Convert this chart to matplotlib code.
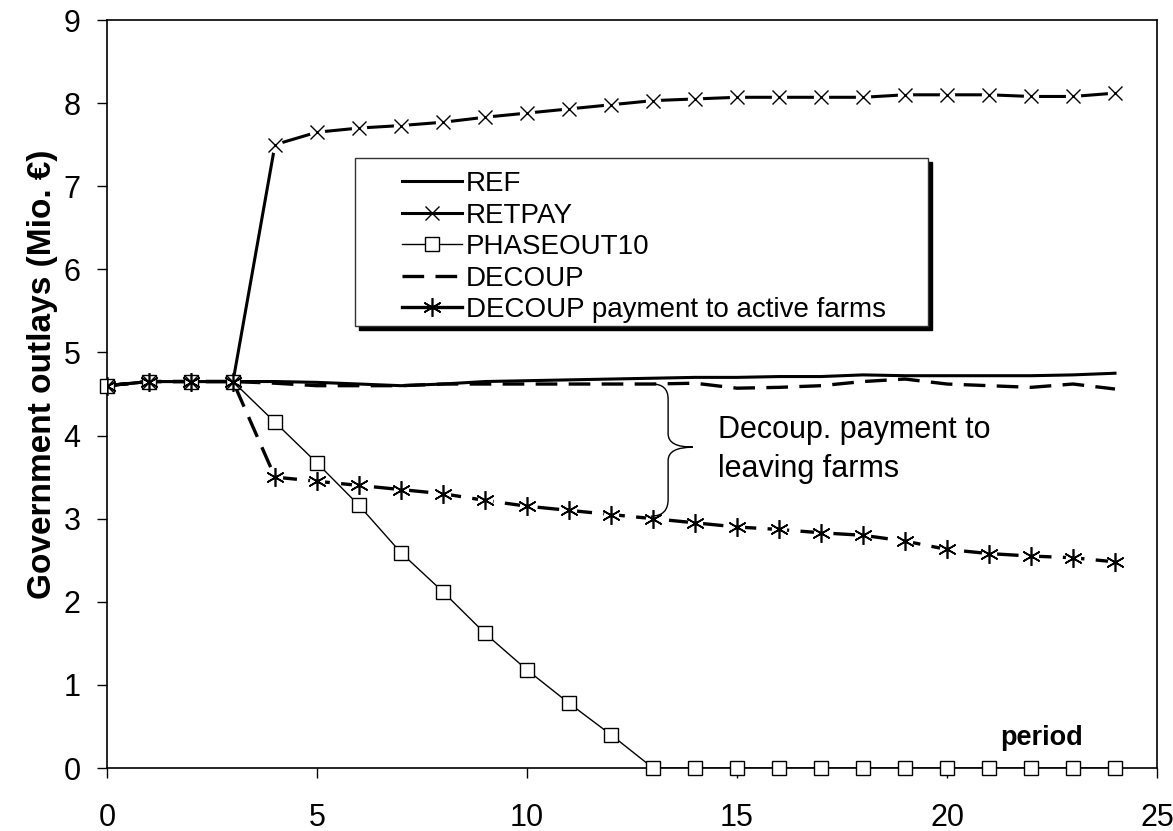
import matplotlib
matplotlib.use('Agg')
import matplotlib.pyplot as plt
from matplotlib.lines import Line2D
from matplotlib.patches import Rectangle, PathPatch
from matplotlib.path import Path

plt.rcParams['font.family'] = ['Liberation Sans', 'DejaVu Sans']

periods = list(range(25))
ref = [4.60, 4.65, 4.65, 4.65, 4.65, 4.64, 4.62, 4.60, 4.62, 4.65, 4.66, 4.67, 4.68,
       4.69, 4.70, 4.70, 4.71, 4.71, 4.73, 4.72, 4.72, 4.72, 4.72, 4.73, 4.75]
retpay = [4.60, 4.65, 4.65, 4.65, 7.50, 7.65, 7.70, 7.73, 7.77, 7.83, 7.88, 7.93, 7.98,
          8.03, 8.05, 8.07, 8.07, 8.07, 8.07, 8.10, 8.10, 8.10, 8.08, 8.08, 8.12]
phaseout10 = [4.60, 4.65, 4.65, 4.65, 4.16, 3.67, 3.16, 2.59, 2.12, 1.62, 1.18, 0.78, 0.40,
              0, 0, 0, 0, 0, 0, 0, 0, 0, 0, 0, 0]
decoup = [4.60, 4.65, 4.65, 4.65, 4.63, 4.60, 4.60, 4.60, 4.62, 4.62, 4.62, 4.62, 4.62,
          4.62, 4.63, 4.57, 4.58, 4.60, 4.65, 4.68, 4.62, 4.60, 4.58, 4.62, 4.56]
decoup_active = [4.60, 4.65, 4.65, 4.65, 3.50, 3.45, 3.40, 3.35, 3.30, 3.22, 3.15, 3.10, 3.05,
                 3.00, 2.95, 2.90, 2.87, 2.83, 2.80, 2.73, 2.63, 2.58, 2.55, 2.53, 2.48]
series_labels = ['REF', 'RETPAY', 'PHASEOUT10', 'DECOUP', 'DECOUP payment to active farms']
x_ticks = [0, 5, 10, 15, 20, 25]
y_ticks = [0, 1, 2, 3, 4, 5, 6, 7, 8, 9]
annotation_text = 'Decoup. payment to\nleaving farms'

fig = plt.figure(figsize=(11.73, 8.31), dpi=100)
ax = fig.add_axes([107/1173, 63/831, 1050/1173, 748/831])

star = (6, 2, 0)
DASH = (6.5, 3.4)

# lines
ax.plot(periods, decoup, color='black', lw=2.4, dashes=DASH, zorder=2)
ax.plot(periods, ref, color='black', lw=2.2, zorder=2.1)
ax.plot(periods, phaseout10, color='black', lw=1.0, zorder=2.2)
ax.plot(periods, decoup_active, color='black', lw=2.4, dashes=DASH, zorder=2.3)
ax.plot(periods, retpay, color='black', lw=2.2, zorder=2.4)

# white halos to break the lines at markers (only where markers stand alone)
ax.plot(periods[4:], retpay[4:], ls='none', marker='o', ms=11, mfc='white', mec='none', zorder=3)
ax.plot(periods[4:], decoup_active[4:], ls='none', marker='o', ms=11, mfc='white', mec='none', zorder=3)

# markers
ax.plot(periods, phaseout10, ls='none', marker='s', ms=10.5, mfc='white', mec='black', mew=1.0,
        zorder=4, clip_on=False)
ax.plot(periods, retpay, ls='none', marker='x', ms=10.5, mec='black', mew=1.0, zorder=5)
ax.plot(periods, decoup_active, ls='none', marker=star, ms=13.5, mec='black', mew=1.2, zorder=5)

ax.set_xlim(0, 25)
ax.set_ylim(0, 9)
ax.set_xticks(x_ticks)
ax.set_yticks(y_ticks)
ax.tick_params(direction='out', length=7, width=1, labelsize=22, colors='black')
ax.tick_params(axis='x', pad=18)
ax.tick_params(axis='y', pad=12)
for s in ax.spines.values():
    s.set_linewidth(1.2)
    s.set_color('black')

ax.set_ylabel('Government outlays (Mio. €)', fontsize=24, fontweight='bold')
ax.yaxis.set_label_coords((58 - 107) / 1050, (768 - 374) / 748)
ax.text(22.25, 0.36, 'period', fontsize=19.5, fontweight='bold', ha='center', va='center')

# brace
bx, tip = 13.36, 13.95
yt, ym, yb = 4.62, 3.86, 3.03
verts = [(12.98, yt), (bx, yt), (bx, yt - 0.18),
         (bx, ym + 0.16), (bx, ym), (tip, ym),
         (bx, ym), (bx, ym - 0.16),
         (bx, yb + 0.2), (bx, yb), (12.95, yb)]
codes = [Path.MOVETO, Path.CURVE3, Path.CURVE3,
         Path.LINETO, Path.CURVE3, Path.CURVE3,
         Path.CURVE3, Path.CURVE3,
         Path.LINETO, Path.CURVE3, Path.CURVE3]
ax.add_patch(PathPatch(Path(verts, codes), fill=False, lw=1.0, ec='black', zorder=6))
ax.text(14.55, 3.83, annotation_text, fontsize=22, ha='left', va='center', linespacing=1.4)

# legend
handles = [
    Line2D([], [], color='black', lw=2.2),
    Line2D([], [], color='black', lw=2.2, marker='x', ms=10.5, mew=1.0),
    Line2D([], [], color='black', lw=1.0, marker='s', ms=10.5, mfc='white', mec='black'),
    Line2D([], [], color='black', lw=2.4, dashes=DASH),
    Line2D([], [], color='black', lw=2.4, marker=star, ms=13.5, mew=1.2),
]
leg = ax.legend(handles, series_labels, loc='upper left',
                bbox_to_anchor=((402 - 107) / 1050, (768 - 171) / 748), frameon=False,
                fontsize=20, handlelength=2.15, handletextpad=0.15, labelspacing=0.2,
                borderpad=0, borderaxespad=0)
leg.set_zorder(10)

fx0, fx1 = (355 - 107) / 1050, (928 - 107) / 1050
fy0, fy1 = (768 - 326) / 748, (768 - 158) / 748
sh_dx, sh_dy = 4 / 1050, 4 / 748
ax.add_patch(Rectangle((fx0 + sh_dx, fy0 - sh_dy), fx1 - fx0, fy1 - fy0, transform=ax.transAxes,
                       facecolor='black', edgecolor='black', zorder=7, clip_on=False))
ax.add_patch(Rectangle((fx0, fy0), fx1 - fx0, fy1 - fy0, transform=ax.transAxes,
                       facecolor='white', edgecolor='#333333', lw=1.0, zorder=8, clip_on=False))

fig.savefig('out.png', dpi=100)
